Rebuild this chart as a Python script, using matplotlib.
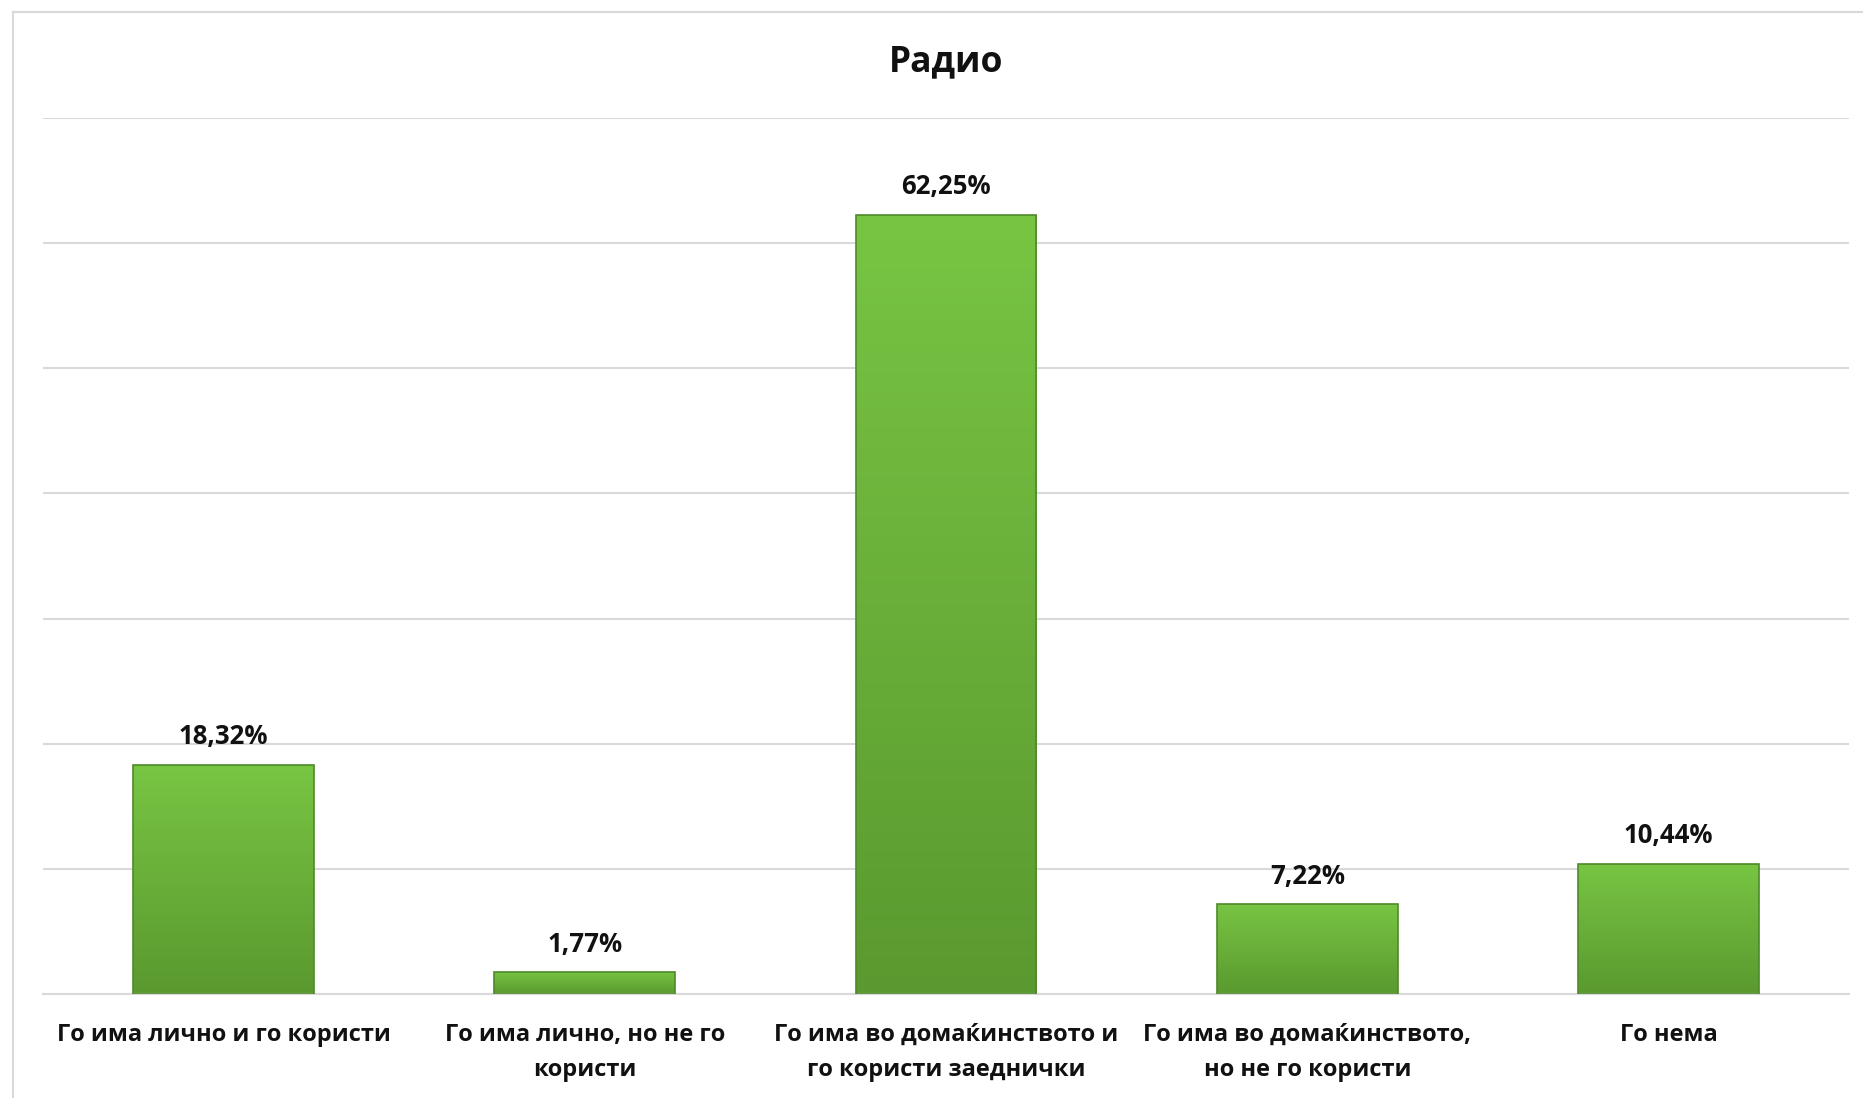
import numpy as np
import matplotlib
matplotlib.use('Agg')
import matplotlib.pyplot as plt
from matplotlib.colors import LinearSegmentedColormap
from matplotlib.lines import Line2D

plt.rcParams['font.family'] = ['Open Sans', 'DejaVu Sans']

title = 'Радио'
categories = ['Го има лично и го користи',
              'Го има лично, но не го\nкористи',
              'Го има во домаќинството и\nго користи заеднички',
              'Го има во домаќинството,\nно не го користи',
              'Го нема']
values = [18.32, 1.77, 62.25, 7.22, 10.44]
labels = ['18,32%', '1,77%', '62,25%', '7,22%', '10,44%']

fig = plt.figure(figsize=(18.63, 10.98), dpi=100)
ax = fig.add_axes([0.023, 0.0943, 0.9696, 0.7986])

x = np.arange(len(values))
width = 0.5
ymax = 70

# gradient bars: light green at top, darker at bottom
cmap = LinearSegmentedColormap.from_list('grn', ['#5a992f', '#78c543'])
grad = np.linspace(0, 1, 256).reshape(-1, 1)
bars = ax.bar(x, values, width=width, color='none', edgecolor='#4e8a2a',
              linewidth=1.2, zorder=3)
for b in bars:
    x0, y0 = b.get_x(), b.get_y()
    w, h = b.get_width(), b.get_height()
    im = ax.imshow(grad, cmap=cmap, aspect='auto', origin='lower',
                   extent=[x0, x0 + w, y0, y0 + h], zorder=2)
    im.set_clip_path(b)

for xi, v, lab in zip(x, values, labels):
    ax.annotate(lab, (xi, v), xytext=(0, 28), textcoords='offset pixels',
                ha='center', va='center', fontsize=18.5, fontweight='bold',
                color='#111111')

ax.set_xlim(-0.5, len(values) - 0.5)
ax.set_ylim(0, ymax)
ax.set_yticks(np.arange(0, ymax + 1, 10))
ax.yaxis.grid(True, color='#d9d9d9', linewidth=1.5, zorder=0)
ax.set_axisbelow(True)
ax.tick_params(axis='y', left=False, labelleft=False)
ax.tick_params(axis='x', bottom=False, pad=17)
ax.set_xticks(x)
ax.set_xticklabels(categories, fontsize=17, fontweight='bold',
                   color='#111111', linespacing=1.62, va='top')
for s in ['top', 'right', 'left']:
    ax.spines[s].set_visible(False)
ax.spines['bottom'].set_color('#d9d9d9')
ax.spines['bottom'].set_linewidth(1.5)

fig.text(0.508, 0.943, title, ha='center', va='center', fontsize=25.5,
         fontweight='bold', color='#111111')

# chart border (left and top)
fig.add_artist(Line2D([13 / 1863, 13 / 1863], [0, 1 - 12 / 1098],
                      transform=fig.transFigure, color='#d9d9d9', lw=1.5))
fig.add_artist(Line2D([13 / 1863, 1], [1 - 12 / 1098, 1 - 12 / 1098],
                      transform=fig.transFigure, color='#d9d9d9', lw=1.5))

fig.savefig('out.png', dpi=100, facecolor='white')
